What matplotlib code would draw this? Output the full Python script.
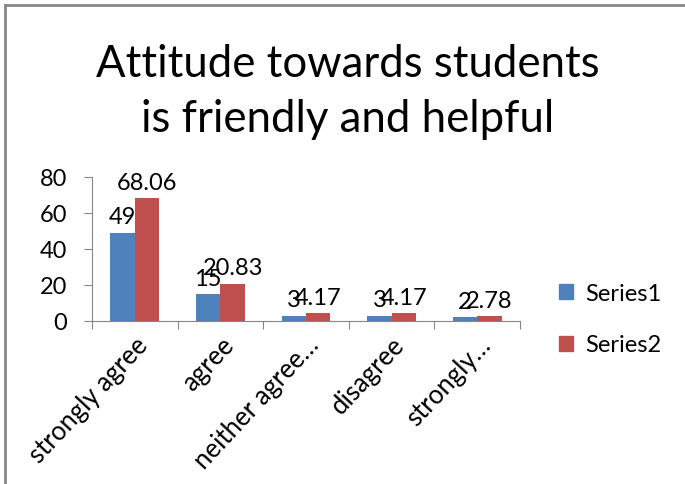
import numpy as np
import matplotlib.pyplot as plt
from matplotlib.lines import Line2D
from matplotlib.patches import Patch

# data
categories = ['strongly agree', 'agree', 'neither agree…', 'disagree', 'strongly…']
series1 = [49, 15, 3, 3, 2]
series2 = [68.06, 20.83, 4.17, 4.17, 2.78]
label1 = ['49', '15', '3', '3', '2']
label2 = ['68.06', '20.83', '4.17', '4.17', '2.78']

blue = '#4F81BD'; red = '#C0504D'; grey = '#868686'

plt.rcParams['font.family'] = ['Lato', 'DejaVu Sans']

fig = plt.figure(figsize=(6.85, 4.85), dpi=100)
ax = fig.add_axes([92/685, 1-322/485, 428/685, 144/485])

x = np.arange(len(categories))
w = 1/3.5
ax.bar(x - w/2, series1, w, color=blue, label='Series1')
ax.bar(x + w/2, series2, w, color=red, label='Series2')

# data labels (they overlap in the original too)
for i in range(len(x)):
    ax.text(x[i] - w/2, series1[i] + 3, label1[i], ha='center', va='bottom', fontsize=17)
    ax.text(x[i] + w/2, series2[i] + 3, label2[i], ha='center', va='bottom', fontsize=17)

ax.set_xlim(-0.5, len(x) - 0.5)
ax.set_ylim(0, 80)
ax.set_yticks([0, 20, 40, 60, 80])
ax.tick_params(axis='y', labelsize=17, length=6, color=grey, pad=12)

ax.set_xticks(np.arange(-0.5, len(x)), minor=False)
ax.set_xticklabels([])
ax.tick_params(axis='x', length=6, color=grey)
ax.set_xticks(x, minor=True)
ax.set_xticklabels(categories, minor=True, rotation=47, ha='right', rotation_mode='anchor', fontsize=18.5)
ax.tick_params(axis='x', which='minor', length=0, pad=8)

for s in ['top', 'right']:
    ax.spines[s].set_visible(False)
ax.spines['left'].set_color(grey)
ax.spines['bottom'].set_color(grey)

fig.text(348/685, 1-92/485, 'Attitude towards students\nis friendly and helpful',
         ha='center', va='center', fontsize=31.5, linespacing=1.4)

handles = [Patch(color=blue), Patch(color=red)]
fig.legend(handles, ['Series1', 'Series2'], loc='center left', bbox_to_anchor=(538/685, 1-320/485),
           frameon=False, fontsize=17, handlelength=0.6, handleheight=0.6, labelspacing=1.3, handletextpad=0.5)

# chart border
fig.add_artist(Line2D([5/685, 5/685], [0, 1-6/485], color='#888888', lw=2))
fig.add_artist(Line2D([5/685, 1], [1-6/485, 1-6/485], color='#888888', lw=2))

fig.savefig('out.png', dpi=100)
